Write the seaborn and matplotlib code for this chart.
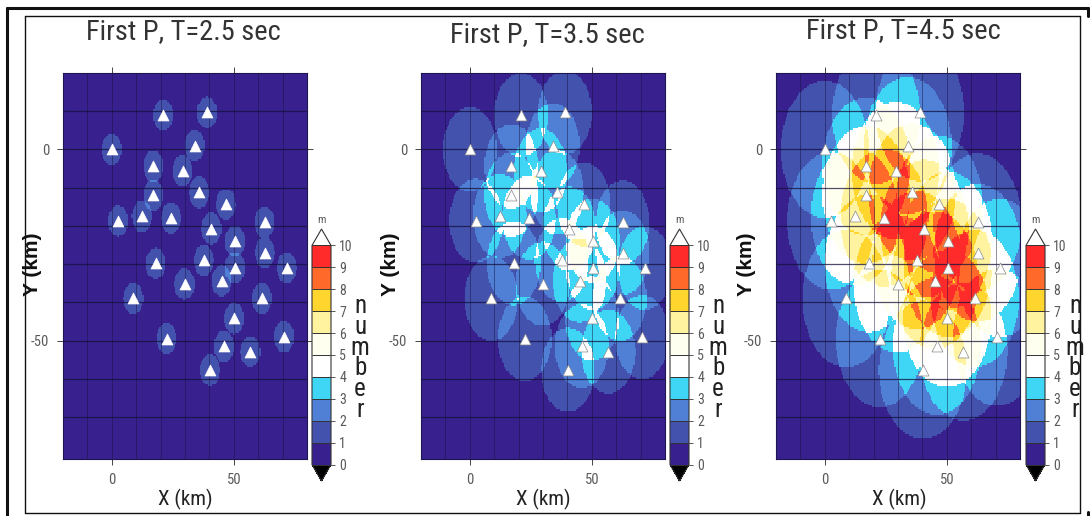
import numpy as np
import seaborn as sns
import matplotlib.pyplot as plt
from matplotlib.colors import BoundaryNorm, ListedColormap
from matplotlib.lines import Line2D

W, H = 1090, 516

titles = ["First P, T=2.5 sec", "First P, T=3.5 sec", "First P, T=4.5 sec"]

# stations (km)
station_x = [0, 21, 39, 34, 17, 29, 17, 35.8, 46.7, 2.6, 12.3, 24.3, 40.8, 50.4, 62.6,
             62.7, 18, 37.7, 50.4, 71.7, 45, 29.8, 61.5, 8.8, 50.1, 22.5, 70.6, 45.9, 56.8, 40.2]
station_y = [0, 9, 9.7, 1, -4.4, -5.6, -11.9, -11.2, -14.4, -18.7, -17.5, -17.9, -20.7, -23.9, -19.1,
             -27, -29.8, -29, -31, -31, -34.3, -35.2, -39, -39, -44.2, -49.5, -49.1, -51.5, -52.9, -57.7]

# circle radius around a station in each panel, measured on the picture (km)
radii = [4.1, 11.0, 18.0]

levels = [0, 1, 2, 3, 4, 5, 6, 7, 8, 9, 10]
level_colors = ["#38218f", "#4352ad", "#4f80d6", "#3fd6f5", "#ffffff",
                "#fffff0", "#fff3a0", "#ffd52e", "#ff6a2b", "#ff2b2b"]

# pixel positions of the panel parts
map_left = [63, 421, 776]
bar_left = [312, 670, 1026]
title_x = [183, 547, 903]
title_y = [32, 35, 31]
xlabel_x = [185, 543, 899]
ylabel_x = [32, 390, 746]
number_x = [360, 718, 1075]
edge_colors = ["white", "#8a8a8a", "#8a8a8a"]

NARROW = ["Roboto Condensed", "Sofia Sans Condensed", "Liberation Sans", "DejaVu Sans"]
GREY = "#5a5a5a"

sns.set_theme(style="white")
plt.rcParams["font.family"] = NARROW

cmap = ListedColormap(level_colors)
cmap.set_under("black")
cmap.set_over("white")
norm = BoundaryNorm(levels, cmap.N)


def box(left, top, width, height):
    return [left / W, 1 - (top + height) / H, width / W, height / H]


# half km cells, top row first
CELL = 0.5
xs = -20 + CELL * (np.arange(200) + 0.5)
ys = 20 - CELL * (np.arange(202) + 0.5)
gx, gy = np.meshgrid(xs, ys)
sx = np.array(station_x)
sy = np.array(station_y)

fig = plt.figure(figsize=(W / 100, H / 100), dpi=100, facecolor="white")

for i in range(3):
    # number of stations reached by the circles in each cell
    count = np.zeros(gx.shape)
    for a, b in zip(sx, sy):
        count += (gx - a) ** 2 + (gy - b) ** 2 <= radii[i] ** 2
    cells = np.clip(count, 0, 9) + 0.5

    ax = fig.add_axes(box(map_left[i], 73, 244, 386))
    cax = fig.add_axes(box(bar_left[i], 229, 19, 252))
    sns.heatmap(cells, ax=ax, cmap=cmap, norm=norm, cbar_ax=cax,
                xticklabels=False, yticklabels=False,
                cbar_kws=dict(extend="both", ticks=levels, extendfrac=0.075, drawedges=True))

    # heatmap runs in cell numbers, so km are shifted by the map corner
    ax.set_xticks([20 / CELL, 70 / CELL], ["0", "50"])
    ax.set_yticks([20 / CELL, 70 / CELL], ["0", "-50"], rotation=0)
    ax.tick_params(axis="both", length=4, width=0.7, color="#444444", labelcolor=GREY,
                   labelsize=10.5, bottom=True, left=True, top=True, right=True, pad=6)
    for v in range(10, 100, 10):
        ax.axvline(v / CELL, color="#14103a", lw=0.6, alpha=0.55)
        ax.axhline(v / CELL, color="#14103a", lw=0.9, alpha=0.75)
    for s in ax.spines.values():
        s.set_visible(True)
        s.set_linewidth(0.8)
        s.set_color("#1d1650")

    ax.scatter((sx + 20) / CELL, (20 - sy) / CELL, marker="^", s=62, c="white",
               edgecolors=edge_colors[i], linewidths=0.5, zorder=5)

    cb = ax.collections[0].colorbar
    cb.outline.set_visible(True)
    cb.outline.set_linewidth(0.8)
    cb.outline.set_edgecolor("#333333")
    cb.dividers.set_color("#333333")
    cb.dividers.set_linewidth(0.7)
    cb.ax.tick_params(length=3, width=0.7, color="#555555", labelcolor=GREY, labelsize=10, pad=3)

    fig.text(title_x[i] / W, 1 - title_y[i] / H, titles[i], fontsize=20.5, color="#333333",
             ha="center", va="center")
    fig.text(xlabel_x[i] / W, 1 - 499 / H, "X (km)", fontsize=15, color="#222222",
             ha="center", va="center")
    fig.text(ylabel_x[i] / W, 1 - 264 / H, "Y (km)", fontsize=15, color="#111111", rotation=90,
             fontweight="bold", family=["Liberation Sans", "DejaVu Sans"], ha="center", va="center")
    fig.text((bar_left[i] + 9) / W, 1 - 220 / H, "m", fontsize=8, color=GREY,
             ha="center", va="center")
    fig.text(number_x[i] / W, 1 - 358 / H, "n\nu\nm\nb\ne\nr", fontsize=18, color="#222222",
             ha="center", va="center", linespacing=0.83)

# page frame around the figure
frame = [([7, 7], [8, 516], 2.2), ([7, 1088], [8, 8], 2.2), ([1088, 1088], [8, 16], 2.2),
         ([1088, 1088], [512, 516], 2.2), ([25, 1080], [15.5, 15.5], 1.0),
         ([25, 25], [15.5, 512.5], 1.0), ([1080, 1080], [15.5, 512.5], 1.0),
         ([25, 1080], [512.5, 512.5], 1.0)]
for px, py, lw in frame:
    fig.add_artist(Line2D([p / W for p in px], [1 - p / H for p in py], color="#111111", lw=lw))

fig.savefig("out.png", dpi=100)
